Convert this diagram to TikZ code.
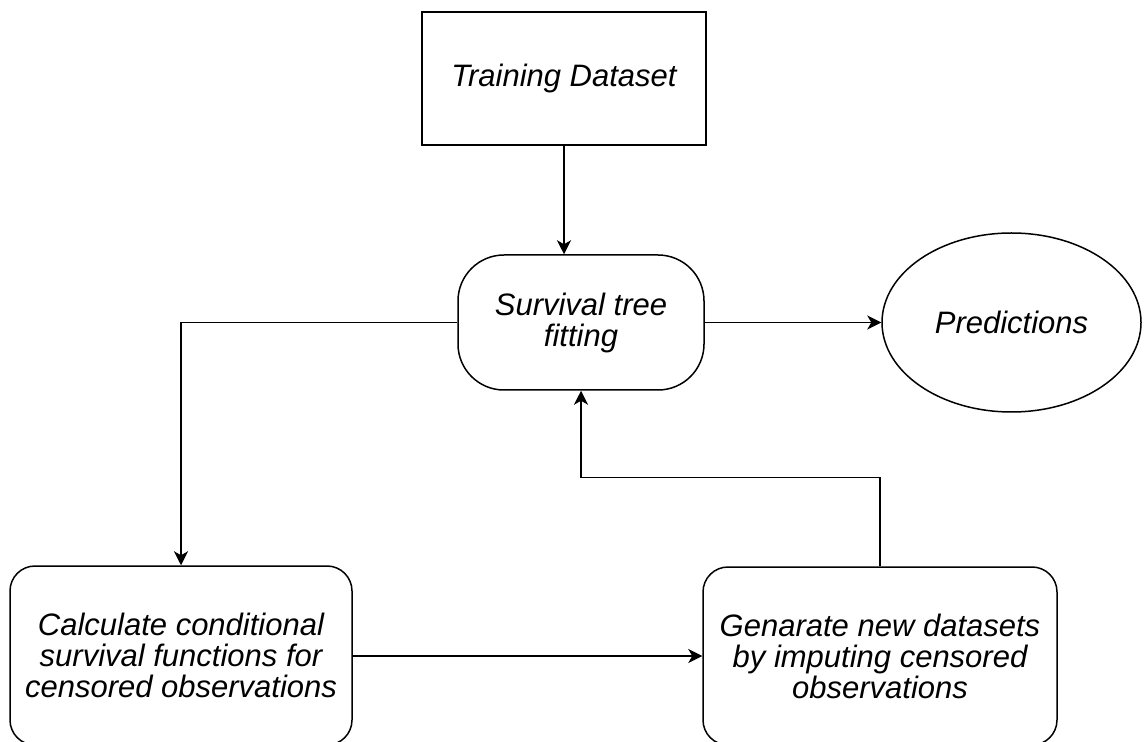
\documentclass[tikz,border=0pt]{standalone}
\usepackage{fontspec}
\setmainfont{Liberation Sans}
\usetikzlibrary{shapes.geometric,arrows.meta,positioning,calc}
\tikzset{
  base/.style={draw=black, line width=0.75pt, align=center, inner sep=0pt,
    font=\fontsize{15.5}{15.5}\selectfont\itshape},
  sqbox/.style={base, rectangle},
  rbox/.style={base, rectangle, rounded corners=12.5pt},
  stadium/.style={base, rectangle, rounded corners=23pt},
  oval/.style={base, ellipse},
  conn/.style={line width=0.75pt, -{Stealth[length=7pt,width=7pt,inset=2pt]}},
}
\begin{document}
\begin{tikzpicture}[x=0.5pt,y=-0.5pt]
\useasboundingbox (0,0) rectangle (1144,742);
\clip (0,0) rectangle (1144,742);
\node[sqbox, minimum width=142pt, minimum height=66.5pt] (train) at (564,78.5) {Training Dataset};
\node[stadium, minimum width=123pt, minimum height=67.5pt] (stad) at (581,322.5) {Survival tree\\fitting};
\node[oval, minimum width=129.5pt, minimum height=89.5pt] (pred) at (1011.5,322.5) {Predictions};
\node[rbox, minimum width=171pt, minimum height=89.5pt] (calc) at (181,655.5) {Calculate conditional\\survival functions for\\censored observations};
\node[rbox, minimum width=177pt, minimum height=89pt] (gen) at (880,656) {Genarate new datasets\\by imputing censored\\observations};
\draw[conn] (train.south) -- (train.south |- stad.north);
\draw[conn] (stad.east) -- (pred.west);
\draw[conn] (stad.west) -| (calc.north);
\draw[conn] (calc.east |- gen.west) -- (gen.west);
\draw[conn] (gen.north) -- ++(0,-89) -| (stad.south);
\end{tikzpicture}
\end{document}
